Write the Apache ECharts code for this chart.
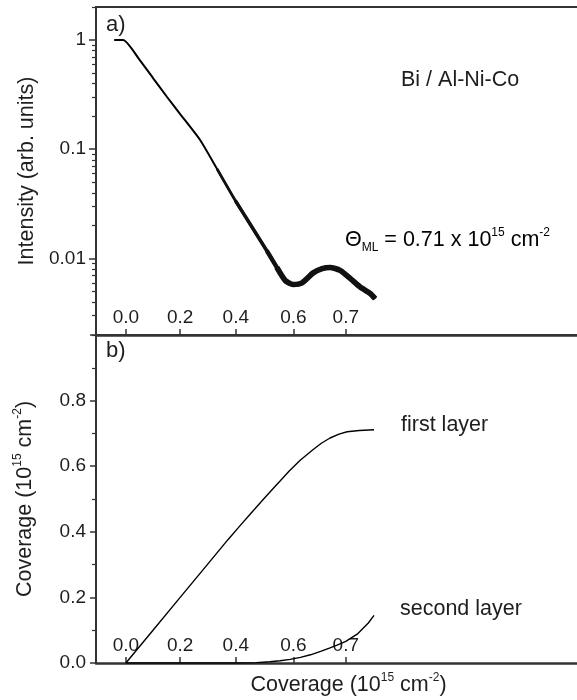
<!DOCTYPE html>
<html><head><meta charset="utf-8">
<script src="https://cdn.jsdelivr.net/npm/echarts@6/dist/echarts.min.js"></script>
<style>html,body{margin:0;padding:0;background:#fff}#c{width:577px;height:700px}</style>
</head><body><div id="c"></div>
<script>
// Underlying (hidden) x variable: deposition time, arb. units (initial rate = 1 coverage unit / time unit)
// Coverage tick labels sit at non-uniform positions on that time axis.
const coverageTickPos = [0, 0.200, 0.405, 0.617, 0.810];
const coverageTickLabels = ['0.0', '0.2', '0.4', '0.6', '0.7'];

// Panel a) : intensity (log) vs time
const timeA = [-0.043, -0.010, 0.052, 0.100, 0.151, 0.200, 0.274, 0.336, 0.403, 0.458, 0.519, 0.556, 0.587, 0.616, 0.649, 0.690, 0.723, 0.752, 0.789, 0.826, 0.863, 0.900, 0.918];
const intensityA = [1, 1, 0.65, 0.448, 0.302, 0.21, 0.121, 0.066, 0.034, 0.0206, 0.0118, 0.0083, 0.0063, 0.0058, 0.0060, 0.0074, 0.0081, 0.0083, 0.0078, 0.0066, 0.0055, 0.0048, 0.0043];

// Panel b) : layer coverages vs time
const timeFirst = [0, 0.100, 0.200, 0.300, 0.376, 0.420, 0.460, 0.500, 0.540, 0.568, 0.600, 0.642, 0.690, 0.720, 0.752, 0.785, 0.815, 0.860, 0.914];
const firstLayer = [0, 0.100, 0.200, 0.300, 0.376, 0.418, 0.456, 0.493, 0.530, 0.555, 0.584, 0.618, 0.651, 0.670, 0.686, 0.698, 0.705, 0.709, 0.711];
const timeSecond = [0, 0.420, 0.480, 0.530, 0.568, 0.605, 0.643, 0.680, 0.720, 0.752, 0.780, 0.810, 0.852, 0.893, 0.914];
const secondLayer = [0, 0, 0.001, 0.004, 0.007, 0.011, 0.017, 0.025, 0.036, 0.046, 0.055, 0.066, 0.088, 0.122, 0.145];

const logTickValues = [0.01, 0.1, 1];
const logTickLabels = ['0.01', '0.1', '1'];
const logMinorValues = [0.002,0.003,0.004,0.005,0.006,0.007,0.008,0.009,0.02,0.03,0.04,0.05,0.06,0.07,0.08,0.09,0.2,0.3,0.4,0.5,0.6,0.7,0.8,0.9,2];

const FONT = '"Liberation Sans", Arial, sans-serif';
const TXT = '#1e1e1e';
const AX = '#333';

function zip(xs, ys) { return xs.map((x, i) => [x, ys[i]]); }
function covLabel(v) {
  let best = 0;
  coverageTickPos.forEach((p, i) => { if (Math.abs(p - v) < Math.abs(coverageTickPos[best] - v)) best = i; });
  return coverageTickLabels[best];
}
function logLabel(v) {
  let best = 0;
  logTickValues.forEach((p, i) => { if (Math.abs(Math.log10(p) - Math.log10(v)) < Math.abs(Math.log10(logTickValues[best]) - Math.log10(v))) best = i; });
  return logTickLabels[best];
}

const dataA = zip(timeA, intensityA);
// the measured signal gets visibly noisier as the intensity drops: drawn as progressively thicker strokes
const noiseBands = [
  { from: 0.30, width: 2.7, color: '#111' },
  { from: 0.40, width: 3.5, color: '#111' },
  { from: 0.48, width: 4.4, color: '#111' },
  { from: 0.55, width: 5.6, color: '#111' }
];

function xAxisDef(gi, extra) {
  return Object.assign({
    type: 'value', gridIndex: gi, min: -0.11, max: 1.75,
    axisLine: { show: true, onZero: false, lineStyle: { color: AX, width: 2.5 } },
    axisTick: { show: true, inside: true, length: 6, customValues: coverageTickPos, lineStyle: { color: AX, width: 1.5 } },
    axisLabel: { show: true, inside: true, margin: 8, customValues: coverageTickPos, formatter: covLabel, fontSize: 19, color: TXT, fontFamily: FONT },
    splitLine: { show: false }
  }, extra || {});
}

const supRich = {
  n: { fontSize: 21.5, fontFamily: FONT, color: TXT, lineHeight: 27 },
  s: { fontSize: 12, fontFamily: FONT, color: TXT, lineHeight: 12, verticalAlign: 'top' },
  b: { fontSize: 12, fontFamily: FONT, color: TXT, lineHeight: 12, verticalAlign: 'bottom' }
};

const seriesA = [
  { type: 'line', name: 'intensity', xAxisIndex: 0, yAxisIndex: 0, data: dataA, showSymbol: false, smooth: 0.2,
    lineStyle: { color: '#000', width: 2 } }
].concat(noiseBands.map((b, i) => ({
  type: 'line', name: 'intensity noise ' + i, xAxisIndex: 0, yAxisIndex: 0,
  data: dataA.filter(d => d[0] >= b.from), showSymbol: false, smooth: 0.2,
  lineStyle: { color: b.color, width: b.width }
})));

const chart = echarts.init(document.getElementById('c'), null, { renderer: 'canvas' });
chart.setOption({
  animation: false,
  backgroundColor: '#fff',
  grid: [
    { left: 96, right: -24, top: 7, height: 328, outerBoundsMode: 'none', containLabel: false, show: true, borderColor: AX, borderWidth: 2, backgroundColor: 'transparent' },
    { left: 96, right: -24, top: 335, height: 328, outerBoundsMode: 'none', containLabel: false }
  ],
  xAxis: [
    xAxisDef(0),
    xAxisDef(1, {
      name: '{n|Coverage (10}{s|15}{n| cm}{s|-2}{n|)}',
      nameLocation: 'middle', nameGap: 9,
      nameTextStyle: { rich: supRich, verticalAlign: 'top' }
    })
  ],
  yAxis: [
    {
      type: 'log', gridIndex: 0, logBase: 10, min: 0.002, max: 2, position: 'left',
      axisLine: { show: true, onZero: false, lineStyle: { color: AX, width: 2 } },
      axisTick: { show: true, length: 7, customValues: logTickValues, lineStyle: { color: AX, width: 1.5 } },
      axisLabel: { show: true, customValues: logTickValues, formatter: logLabel, margin: 10, fontSize: 19, color: TXT, fontFamily: FONT },
      splitLine: { show: false },
      name: 'Intensity (arb. units)', nameLocation: 'middle', nameGap: 58,
      nameTextStyle: { fontSize: 21.5, fontFamily: FONT, color: TXT }
    },
    {
      type: 'log', gridIndex: 0, logBase: 10, min: 0.002, max: 2, position: 'left',
      axisLine: { show: false, onZero: false },
      axisTick: { show: true, length: 4, customValues: logMinorValues, lineStyle: { color: AX, width: 1.2 } },
      axisLabel: { show: false },
      splitLine: { show: false }
    },
    {
      type: 'value', gridIndex: 1, min: 0, max: 1.0, interval: 0.2, position: 'left',
      axisLine: { show: true, onZero: false, lineStyle: { color: AX, width: 2 } },
      axisTick: { show: true, length: 6, lineStyle: { color: AX, width: 1.5 } },
      minorTick: { show: true, splitNumber: 2, length: 4, lineStyle: { color: AX, width: 1.2 } },
      axisLabel: { show: true, showMaxLabel: false, margin: 10, formatter: v => v.toFixed(1), fontSize: 19, color: TXT, fontFamily: FONT },
      splitLine: { show: false },
      name: '{n|Coverage (10}{s|15}{n| cm}{s|-2}{n|)}', nameLocation: 'middle', nameGap: 57,
      nameTextStyle: { rich: supRich }
    }
  ],
  series: seriesA.concat([
    { type: 'line', name: 'first layer', xAxisIndex: 1, yAxisIndex: 2, data: zip(timeFirst, firstLayer), showSymbol: false,
      lineStyle: { color: '#000', width: 1.4 } },
    { type: 'line', name: 'second layer', xAxisIndex: 1, yAxisIndex: 2, data: zip(timeSecond, secondLayer), showSymbol: false,
      lineStyle: { color: '#000', width: 1.4 } }
  ]),
  graphic: [
    { type: 'text', x: 106, y: 25, style: { text: 'a)', font: '22px ' + FONT, fill: TXT, verticalAlign: 'middle' } },
    { type: 'text', x: 106, y: 351, style: { text: 'b)', font: '22px ' + FONT, fill: TXT, verticalAlign: 'middle' } },
    { type: 'text', x: 401, y: 80, style: { text: 'Bi / Al-Ni-Co', font: '21.5px ' + FONT, fill: TXT, verticalAlign: 'middle' } },
    { type: 'text', x: 345, y: 240, style: { text: '{n|Θ}{b|ML}{n| = 0.71 x 10}{s|15}{n| cm}{s|-2}', rich: supRich, verticalAlign: 'middle' } },
    { type: 'text', x: 401, y: 425, style: { text: 'first layer', font: '21.5px ' + FONT, fill: TXT, verticalAlign: 'middle' } },
    { type: 'text', x: 400, y: 609, style: { text: 'second layer', font: '21.5px ' + FONT, fill: TXT, verticalAlign: 'middle' } }
  ]
});
</script></body></html>
